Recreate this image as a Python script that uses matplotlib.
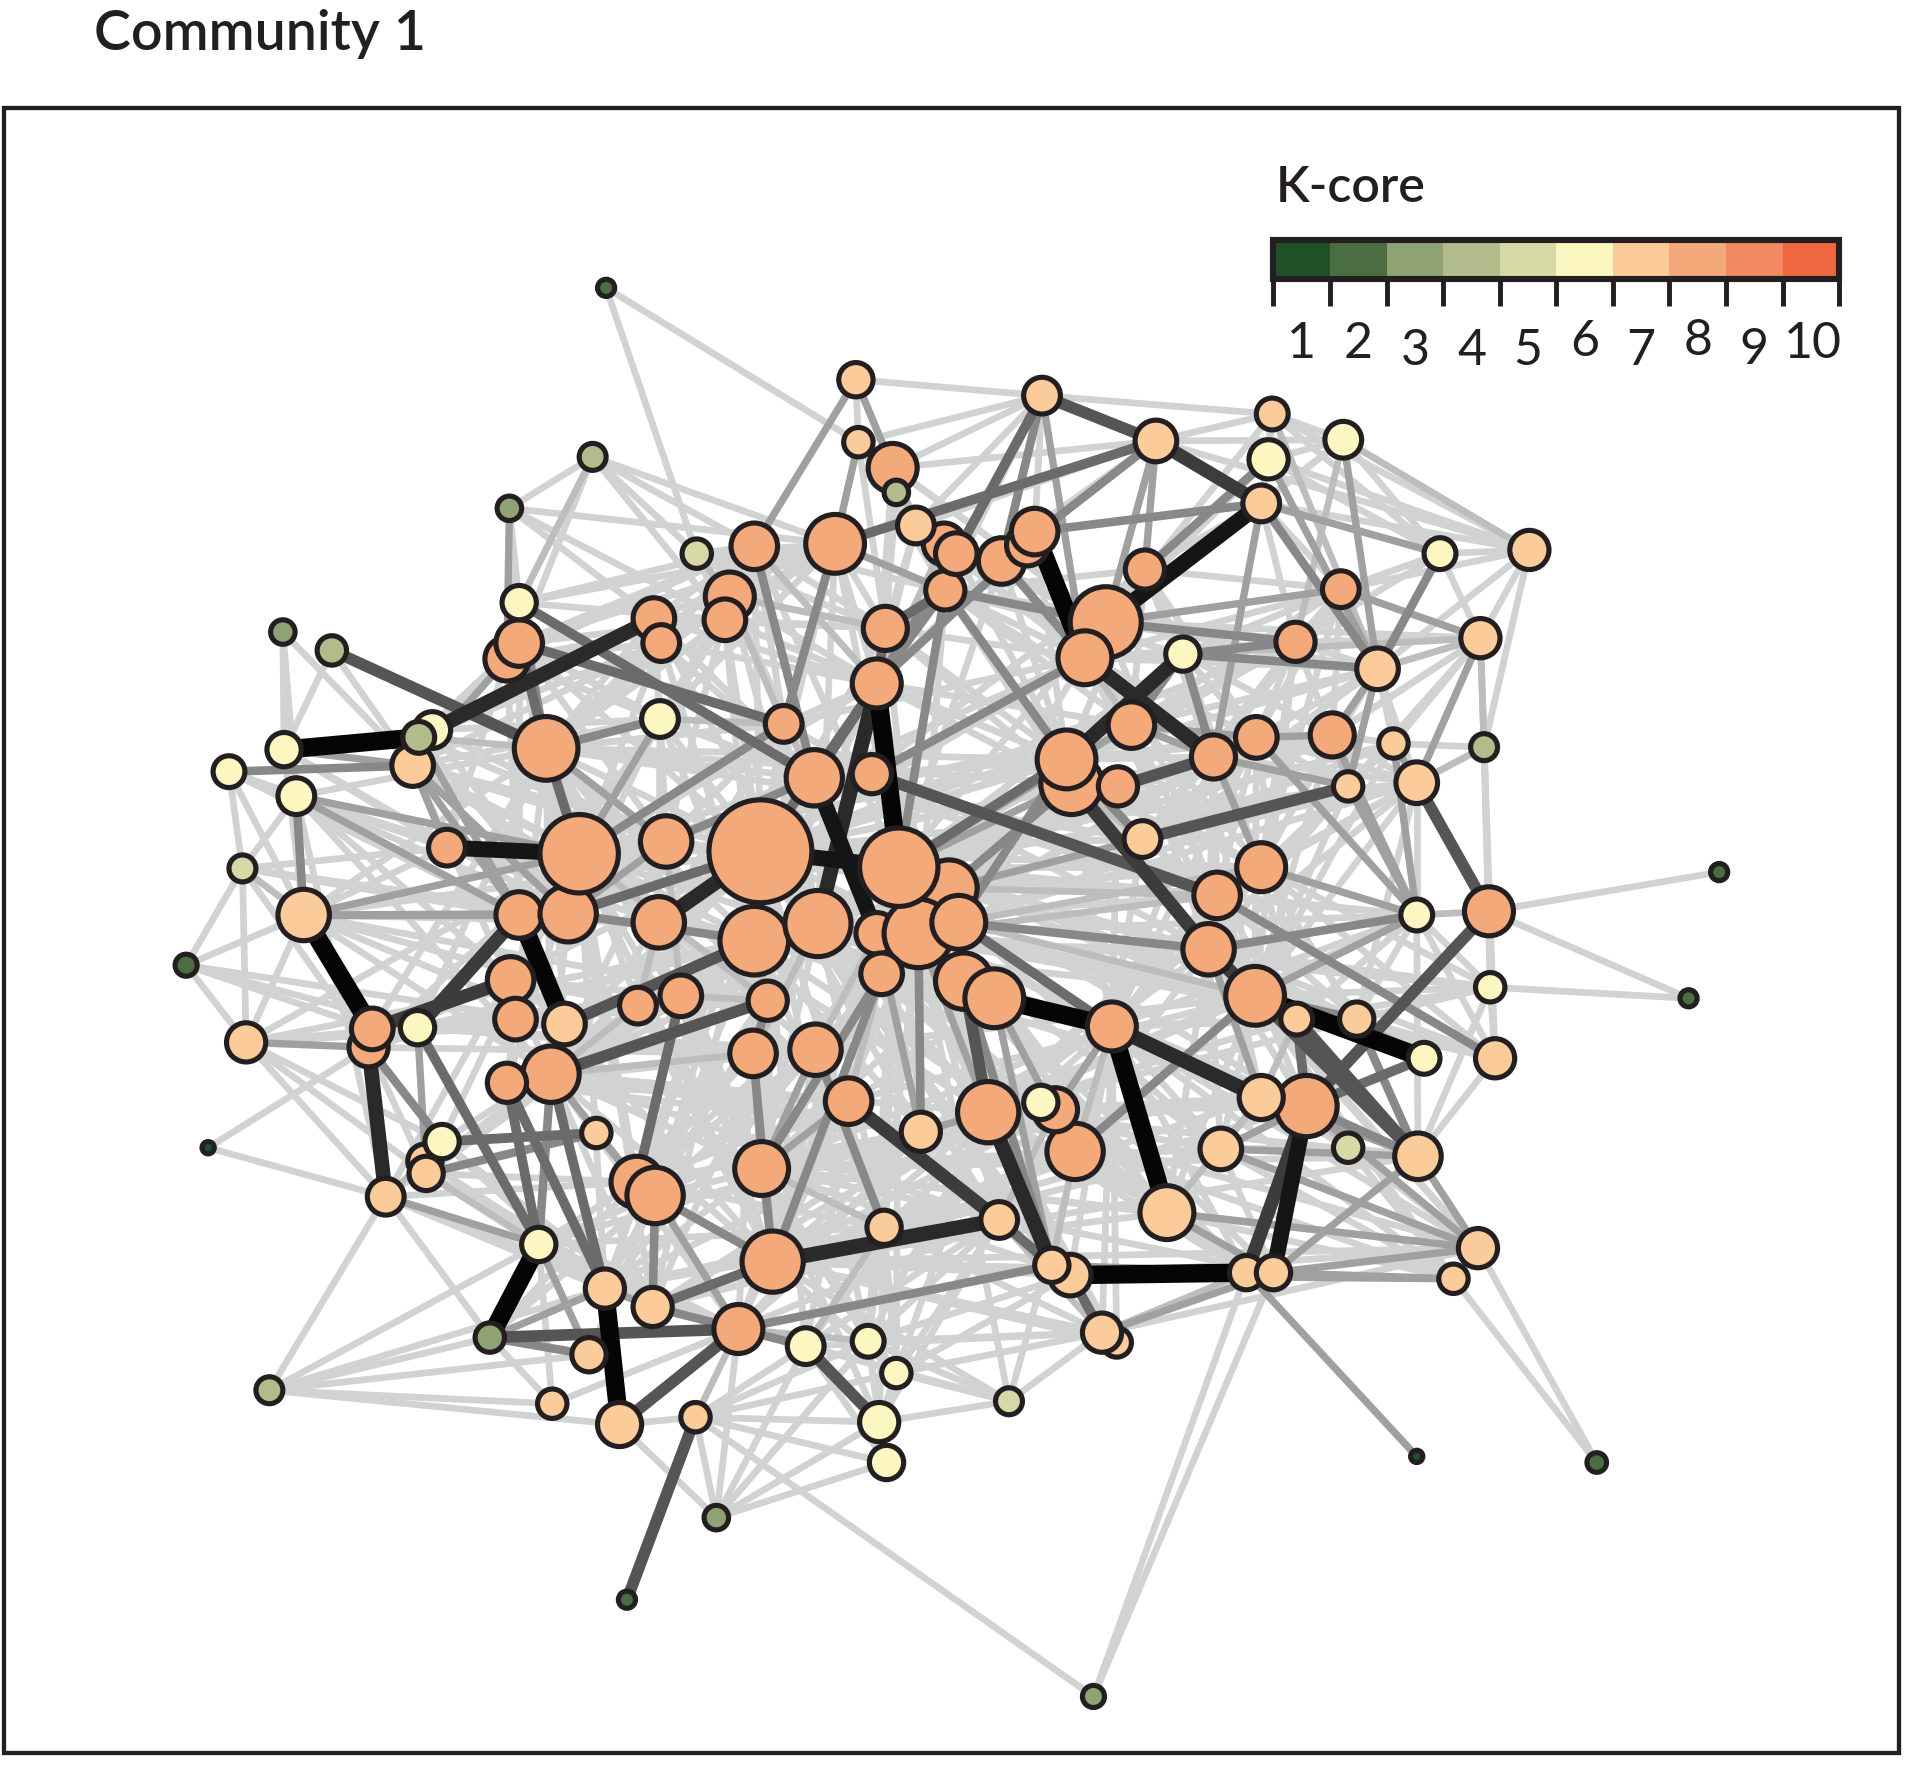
import numpy as np
import matplotlib
matplotlib.use('Agg')
import matplotlib.pyplot as plt
from matplotlib.patches import Circle, Rectangle

plt.rcParams['font.family'] = ['Lato', 'DejaVu Sans']

# layout position of each node, its size and its k-core
node_x = [495,1404,1379,152,170,1157,1304,512,893,585,220,824,1101,400,1212,231,271,416,484,569,732,198,342,
          424,353,232,187,242,539,966,1036,1097,1176,1157,1217,1163,341,361,440,658,709,732,718,724,850,
          699,851,701,1039,944,1030,748,1249,1209,1125,1138,1101,1157,933,248,337,201,1216,487,348,315,752,997,953,1030,1059,1108,1221,1158,1207,1187,1040,1018,816,722,859,874,900,912,494,533,481,451,506,568,
          682,616,540,534,592,596,729,781,771,772,845,839,818,723,716,886,903,935,1095,1058,924,1026,1088,991,913,871,875,640,665,712,446,424,414,365,473,544,621,734,783,720,750,716,775,668,616,538,464,424,421,417,521,556,627,615,666,693,812,787,908,1030,994,987,1025,1067,807,862,878,304,301,414,450,622,535,520,631,603,461,347]
node_y = [235,712,815,788,937,1189,1194,1306,1385,1239,1135,1144,937,1092,610,516,531,415,373,452,402,709,602,
          492,596,612,630,650,587,534,375,359,452,747,806,864,839,932,1016,1099,1095,1121,1161,1194,900,
          310,323,361,338,360,411,429,449,521,546,607,642,639,685,747,625,851,744,925,958,977,924,938,990,896,832,832,864,944,1019,1044,1039,1039,996,1002,1033,1041,1088,1096,1052,1067,1106,1146,1163,1157,
          444,446,525,505,506,487,382,452,444,482,434,445,458,513,558,537,508,465,481,524,592,602,600,618,642,620,640,591,635,632,611,525,538,692,697,687,695,708,753,795,762,762,725,754,768,753,746,747,832,800,821,813,817,860,857,899,815,801,838,708,731,775,813,903,908,906,940,840,855,884,877,954,976,965,1030,1085,836,948]
node_r = [8,8,8,10,6,6,9,8,10,11,12,12,13,13,12,11,13,11,12,13,11,12,14,
          15,16,15,14,16,16,15,17,16,14,14,13,14,15,15,15,16,14,13,17,15,15,
          15,16,13,14,18,16,16,17,17,18,13,13,18,16,22,18,17,21,13,15,16,17,18,23,19,14,15,17,20,17,13,15,15,16,15,15,18,17,13,17,17,15,13,19,13,
          25,20,16,18,18,21,21,18,18,17,20,18,20,19,21,23,30,17,16,17,20,18,19,19,17,25,26,16,24,17,27,20,19,16,33,22,43,33,23,18,29,18,24,28,29,22,24,20,18,20,16,18,17,20,22,20,25,24,21,21,20,22,25,26,26,19,24,18,17,17,24,23,24,22,26,21,18,15]
node_k = [2,2,2,2,1,1,2,2,3,3,4,5,5,3,4,3,4,3,4,5,4,5,4] + [6]*22 + [7]*17 + [8] + [7]*27 + [8]*76 + [7,7]

cbar_labels = ['1','2','3','4','5','6','7','8','9','10']
cbar_colors = ['#1f5128','#4a6e42','#8fa274','#b2bb8b','#d6d8a5','#fcf6c0','#fbcb9a','#f4a97b','#f1885f','#ef6741']

# edges grouped by weight (node index pairs)
edges_w10 = [(104,127),(59,157),(25,22),(38,13),(148,68),(81,77),(146,148),(152,35),(100,105),(137,166),(84,88)]
edges_w9 = [(153,76),(106,50),(126,127),(118,131),(123,124)]
edges_w8 = [(164,78),(148,69),(126,135),(158,65),(24,93),(105,113),(29,115),(154,80),(104,133)]
edges_w7 = [(49,50),(157,139),(116,151),(151,152),(145,78),(36,137),(77,153)]
edges_w6 = [(42,39),(166,134),(160,142),(57,62),(62,153),(70,73),(119,150),(147,154),(46,49),(16,120),(7,89),(13,165),(58,56),(114,113),(88,165),(73,152)]
edges_w5 = [(141,163),(36,38),(159,38),(37,63),(120,124),(121,117),(23,118),(127,115),(128,148),(153,35),(78,80),(81,82),(126,104),(118,104),(160,84),(85,164),(90,49),(46,97),(103,104),(103,99),
            (126,136),(121,120),(159,84),(70,153)]
edges_w4 = [(120,28),(130,66),(32,54),(29,54),(150,72),(128,151),(152,156),(151,33),(100,50),(102,49),(101,104),(91,118),(90,117),(64,63),(165,80),(27,59),(26,60),(153,69),(58,115),(109,29),
            (136,134),(129,161),(129,164),(144,79),(143,164),(142,143),(147,80),(115,99),(105,102),(106,99),(104,99),(104,97),(127,99),(119,105),(128,115),(132,116),(124,117),(125,118),(23,120),
            (158,37),(160,38),(13,86),(85,165),(162,85),(162,164),(39,165),(152,71),(71,73),(153,73),(50,54),(106,109),(46,102),(30,107),(29,113),(29,110)]
edges_w3 = [(111,33),(56,33),(50,113),(45,91),(45,96),(47,90),(111,112),(59,124),(25,60),(27,124),(5,77),(13,84),(74,67),(151,69),(108,106),(99,90),(155,148),(68,76),(165,39),(162,165),(73,67),(130,147),(132,58),(126,118),(17,122),(122,60),(61,158),(144,161),(66,154),(146,156),
            (131,66),(130,154),(145,161),(143,161),(146,80),(127,116),(127,110),(120,125),(124,28),(136,125),(137,60),(136,59),(137,59),(123,60),(27,137),(60,136),(22,137),(36,64),(65,38),(160,163),(63,163),(38,86),(84,85),(161,164),(85,39),
            (112,33),(55,33),(113,149),(149,33),(152,33),(69,73),(153,74),(73,74),(67,153),(76,73),(76,74),(68,74),(81,75),(82,76),(80,75),(50,32),(30,54),(31,54),(108,53),(49,106),(46,105),(49,107),(54,112),(53,57),(57,55),(54,56),(110,113),(110,111),(113,56)]
edges_w2 = [(29,53),(31,109),(18,23),(14,53),(57,14),(33,62),(70,69),(82,77),(85,39),(79,39),(78,82),(161,79),(60,123),(22,120),(95,117),(19,95),(47,96),(110,105),(112,56),(54,53),(71,35),(12,153),(74,73),(116,58),(129,145),(131,144),(140,160),(141,142),(143,160),(166,160),(21,59),(65,167),(38,64),(86,13),(89,165),(40,165),(51,99),(20,98),(67,153),(128,152),
            (48,54),(31,52),(124,142),(125,141),(135,140),(133,143),(134,142),(132,150),(128,149),(130,150),(148,156),(68,69),(67,69),(78,155),(80,156),(91,104),(95,103),(98,104),(120,121),(28,117),(117,118),(28,120)]

light_links = [
    (126,[120,121,94,91,90,103,117,28,125,123,60,59,158,159,160,163,162,161,164,165,85,84,39,40,79,66,78,154,156,148,68,80,81,151,150,149,58,113,110,115,105,107,109,54,112,57]),
    (124,[92,94,117,118,104,110,115,58,150,152,148,154,145,144,161,164,84,85,163,64,65,159,158,61,27,60,28]),
    (127,[91,90,99,102,107,29,109,111,112,55,56,33,71,70,153,67,68,78,80,66,145,161,164,79,165,39,40,41]),
    (130,[103,99,105,110,113,111,56,57,33,34,72,71,73,67,68,76,77,81,80,82,11,79,161,164,165,84,163]),
    (134,[28,92,94,120,117,104,116,113,151,152,148,153,68,78,79,164,161,162,159,65,64,37,158,36,61,27,60]),
    (133,[93,95,91,90,103,115,114,58,150,152,69,154,156,68,80,79,161,163,162,85]),
    (120,[91,94,92,117,118,115,114,58,136,135,160,166,140,141,142,159,163,161,36,157,59,27]),
    (160,[27,59,60,125,136,135,133,127,132,145,144,66,154,156,78,161,164,165,84,85,64,65,38]),
    (164,[166,140,141,142,143,144,145,66,154,155,156,68,67,69,153,76,77,73,74,75,79,81,82,83,11,41]),
    (161,[135,140,141,142,147,146,148,155,156,67,68,69,73,74,76,81,82,40,41,42]),
    (154,[104,118,119,132,149,150,151,152,70,71,33,153,69,67,68,73,74,75,76,77,81,82,83,40,41,39,165,85]),
    (148,[115,116,114,58,150,149,113,111,56,33,71,70,67,73,74,75,77,81,82,83,11,79,66]),
    (152,[105,106,29,109,111,112,56,57,55,33,34,71,72,73,67,68,74,75,66,144,145]),
    (151,[127,119,115,110,113,54,56,57,33,71,72,34,69,153,67,68,73,74,78]),
    (149,[127,132,115,116,105,29,109,108,112,55,57,33,34,70,71,72]),
    (150,[132,127,119,118,116,110,111,113,33,57,153,69,70]),
    (115,[118,119,104,103,99,97,102,100,107,29,109,113,111,112,58]),
    (116,[103,104,99,132,127,128,58,150]),
    (105,[103,99,97,98,51,102,29,107,109,108,54,110,113,111,117,118,119]),
    (106,[51,96,98,97,47,49,50,48,31,30,108,109,54,53]),
    (104,[91,90,94,95,92,93,99,98,97,96,51,102,110,115]),
    (103,[90,91,95,94,93,19,20,51,96,47]),
    (99,[90,91,45,47,46,49,107,109,29,110,113]),
    (90,[93,92,94,19,18,17,23,121,120,28]),
    (91,[18,19,93,92,23,122,121]),
    (94,[23,121,122,17,18]),
    (92,[122,120,60,22]),
    (28,[121,122,24,60,136,137,125,135]),
    (125,[60,22,24,123,137,136,120,28,117,118]),
    (135,[60,59,123,137]),
    (137,[60,27,26,21,59]),
    (136,[27,25,22,24,59,21]),
    (123,[27,25,26,21,59]),
    (59,[26,25,27,21,61,158,3]),
    (166,[59,61,3,27]),
    (140,[36,157,59,61,138,139]),
    (141,[157,36,138,139]),
    (142,[36,59,157,120]),
    (143,[36,158,159,160,163]),
    (144,[36,159,160,163,162]),
    (145,[159,163,162,84]),
    (66,[159,160,163,162,84,85,38,165]),
    (78,[84,85,165,39,40,41,42]),
    (79,[84,85,38,39,40,41,42,163]),
    (162,[38,84,85,13,86]),
    (163,[64,65,13,38]),
    (165,[38,13,64,65,87,88,9]),
    (85,[64,65,37,167]),
    (84,[65,64,37,10]),
    (65,[61,4,10,27,158]),
    (64,[61,158]),
    (37,[158,61]),
    (38,[10,86,87,65,64]),
    (13,[10,87,65]),
    (88,[10,89,9]),
    (87,[10]),
    (89,[9,39,40,42,43,41,8]),
    (39,[9,42,43,11]),
    (40,[42,43,9,11]),
    (41,[42,11]),
    (82,[11,41,40,39]),
    (81,[40,41]),
    (74,[67,68,153,12,73,82,81,6]),
    (75,[12,68,67,81,80,6]),
    (76,[68,67,8]),
    (77,[68,8]),
    (73,[34,72,71,33,12]),
    (12,[67,69]),
    (72,[33,71,34,14]),
    (14,[62,34,57,55,53,52]),
    (34,[33,71,70,2]),
    (53,[52,32,54,108,109,55,57,14,56,112]),
    (52,[32,108,54,31,50,49,48,30]),
    (32,[31,30,48,50,108,109,54]),
    (31,[30,48,50,49]),
    (48,[30,50,49,46]),
    (46,[100,102,96,51,47,45]),
    (45,[47,96,51]),
    (49,[100,96,51]),
    (50,[107,109,108]),
    (54,[109,108,112,55,56,57]),
    (55,[112,56,57]),
    (56,[112,111,113]),
    (57,[112,111,113]),
    (108,[109,107,29]),
    (29,[107,110,113,111]),
    (0,[19,47]),
    (62,[1,2]),
    (3,[61,157,36,21]),
    (4,[158]),
    (9,[42,43,40]),
    (10,[86]),
    (11,[42]),
    (15,[27,60,25]),
    (16,[60,25]),
    (17,[23,93,121]),
    (18,[23,19,17,121]),
    (19,[94]),
    (20,[51,96,47]),
    (21,[61,27,26,158]),
    (22,[24]),
    (121,[60,22,24,136,137,125,28,117]),
    (122,[60,24,137,123]),
    (95,[120,28,125,117,118]),
    (93,[120,28,125,118]),
    (117,[119,104,125,135,120]),
    (118,[28,125,135,92,93]),
    (112,[109,108,29,113,54,53]),
    (111,[109,108,29,54,107]),
    (113,[109,108,107]),
    (110,[107,109,108,54]),
    (58,[109,54,55,111,112,113,57]),
    (33,[71,70,57,55,112]),
    (71,[150,149,57]),
    (70,[149,111]),
]

weight_color = {1:'#d0d3d2',2:'#bdbdbd',3:'#a0a0a0',4:'#888888',5:'#6b6b6b',6:'#555555',7:'#3c3c3c',8:'#2a2a2a',9:'#151515',10:'#050505'}
weight_width = {1:5.5,2:5.5,3:6,4:7,5:8,6:9.5,7:11,8:12,9:13,10:15}

W, H = 1568, 1463
px_to_pt = 72 / 100 * 1920 / W
ink = '#231f20'

fig = plt.figure(figsize=(19.2, 17.92), dpi=100)
ax = fig.add_axes([0, 0, 1, 1])
ax.set_xlim(0, W)
ax.set_ylim(H, 0)
ax.axis('off')

ax.add_patch(Rectangle((3, 88), 1548, 1343, fill=False, ec=ink, lw=3.5 * px_to_pt, zorder=1))

edges_w1 = [(a, b) for a, nbrs in light_links for b in nbrs]
groups = [(1, edges_w1), (2, edges_w2), (3, edges_w3), (4, edges_w4), (5, edges_w5),
          (6, edges_w6), (7, edges_w7), (8, edges_w8), (9, edges_w9), (10, edges_w10)]
for weight, edges in groups:
    for a, b in edges:
        ax.plot([node_x[a], node_x[b]], [node_y[a], node_y[b]], color=weight_color[weight],
                lw=weight_width[weight] * px_to_pt, solid_capstyle='butt', zorder=2)

# lower index ends up on top
for i in range(len(node_x) - 1, -1, -1):
    ax.add_patch(Circle((node_x[i], node_y[i]), node_r[i] - 1, fc=cbar_colors[node_k[i] - 1],
                        ec=ink, lw=4.2 * px_to_pt, zorder=3 + (len(node_x) - i) * 0.001))

# title and colour key
ax.text(77, 41, 'Community 1', fontsize=40, fontweight='semibold', color=ink, ha='left', va='baseline')
ax.text(1042, 165, 'K-core', fontsize=36, fontweight='semibold', color=ink, ha='left', va='baseline')

x0, x1 = 1040, 1502
step = (x1 - x0) / len(cbar_colors)
for i, c in enumerate(cbar_colors):
    ax.add_patch(Rectangle((x0 + i * step, 196), step, 32, fc=c, ec='none', zorder=4))
ax.add_patch(Rectangle((x0, 196), x1 - x0, 32, fill=False, ec=ink, lw=5 * px_to_pt, zorder=5))
label_y = [292,292,298,298,298,291,298,290,297,292]
for i, lab in enumerate(cbar_labels):
    ax.plot([x0 + i * step] * 2, [228, 250], color=ink, lw=4 * px_to_pt, zorder=5, solid_capstyle='butt')
    ax.text(x0 + (i + 0.5) * step + (0 if i < 9 else 2), label_y[i], lab, fontsize=36, fontweight='normal',
            color=ink, ha='center', va='baseline')
ax.plot([x1, x1], [228, 250], color=ink, lw=4 * px_to_pt, zorder=5, solid_capstyle='butt')

fig.savefig('out.png', dpi=100, facecolor='white')
